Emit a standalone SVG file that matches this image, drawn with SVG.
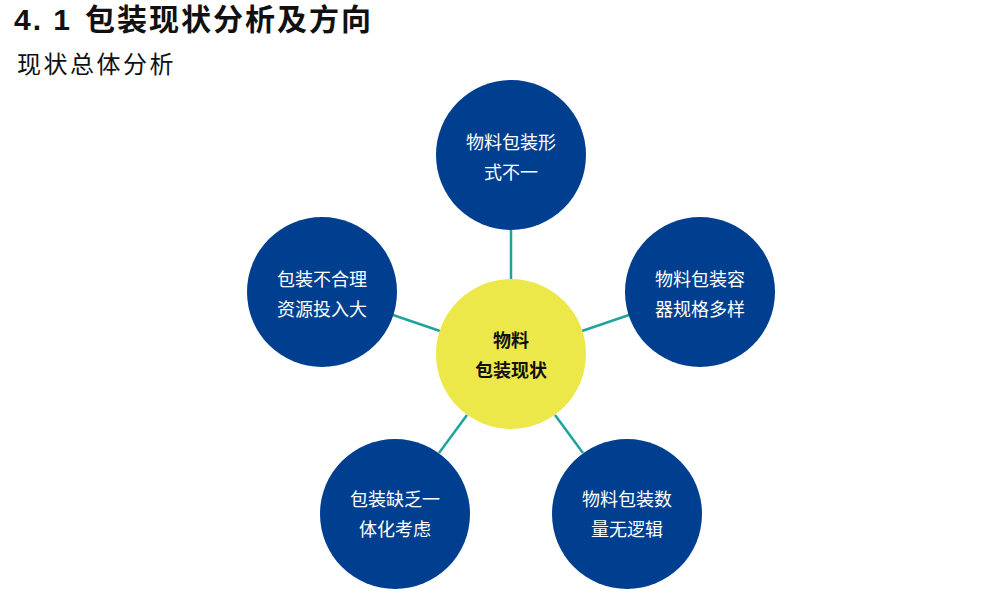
<svg xmlns="http://www.w3.org/2000/svg" width="997" height="597" viewBox="0 0 997 597">
<style>
.title{font-family:"Liberation Sans","Noto Sans CJK SC",sans-serif;font-weight:bold;font-size:30px;fill:#111;letter-spacing:2px}
.sub{font-family:"Noto Sans CJK SC",sans-serif;font-size:24px;fill:#111;letter-spacing:2.5px}
.node circle{fill:#003F8F}
.node text{font-family:"Noto Sans CJK SC",sans-serif;font-size:18px;fill:#fff;text-anchor:middle}
#center circle{fill:#EDE84A}
#center text{font-family:"Noto Sans CJK SC",sans-serif;font-size:18px;font-weight:bold;fill:#111;text-anchor:middle}
#connectors line{stroke:#1FA39A;stroke-width:2.5}
</style>
<rect width="997" height="597" fill="#fff"/>
<text class="title" x="14" y="30">4. 1</text>
<text class="title" x="85" y="30">包装现状分析及方向</text>
<text class="sub" x="17" y="73">现状总体分析</text>
<g id="connectors">
<line x1="511" y1="230" x2="511" y2="279"/>
<line x1="393" y1="315" x2="440" y2="331"/>
<line x1="629" y1="315" x2="582" y2="331"/>
<line x1="439" y1="453" x2="467" y2="415"/>
<line x1="583" y1="453" x2="555" y2="415"/>
</g>
<g id="center">
<circle cx="511" cy="354" r="75"/>
<text x="511" y="347">物料</text>
<text x="511" y="377">包装现状</text>
</g>
<g id="n-top" class="node">
<circle cx="511" cy="155" r="75"/>
<text x="511" y="149">物料包装形</text>
<text x="511" y="179">式不一</text>
</g>
<g id="n-left" class="node">
<circle cx="322" cy="292" r="75"/>
<text x="322" y="286">包装不合理</text>
<text x="322" y="316">资源投入大</text>
</g>
<g id="n-right" class="node">
<circle cx="700" cy="292" r="75"/>
<text x="700" y="286">物料包装容</text>
<text x="700" y="316">器规格多样</text>
</g>
<g id="n-bl" class="node">
<circle cx="395" cy="514" r="75"/>
<text x="395" y="506">包装缺乏一</text>
<text x="395" y="536">体化考虑</text>
</g>
<g id="n-br" class="node">
<circle cx="627" cy="514" r="75"/>
<text x="627" y="506">物料包装数</text>
<text x="627" y="536">量无逻辑</text>
</g>
</svg>
